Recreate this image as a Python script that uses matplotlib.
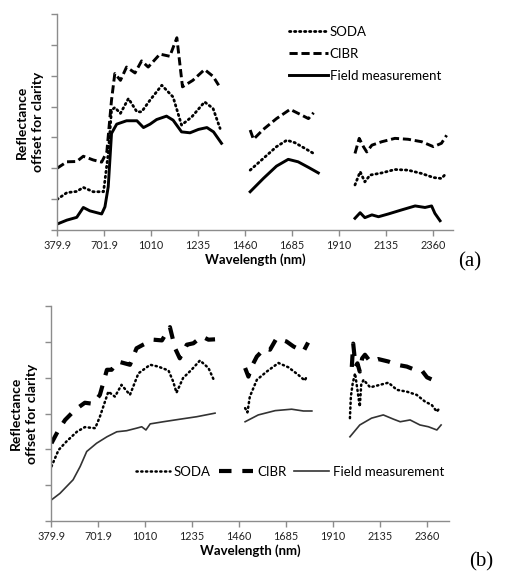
import numpy as np
import matplotlib.pyplot as plt

plt.rcParams['font.family'] = ['Lato', 'DejaVu Sans']

tick_labels = ['379.9', '701.9', '1010', '1235', '1460', '1685', '1910', '2135', '2360']

# x given in axis (category tick) units; None splits the spectral gaps
# ---- panel (a)
a_field_x = [0, .21, .42, .56, .70, .95, 1.02, 1.09, 1.16, 1.27, 1.48, 1.70, 1.84, 1.98, 2.12, 2.33, 2.47, 2.65, 2.83, 3.01, 3.19, 3.33, 3.50,
             None, 4.11, 4.39, 4.67, 4.92, 5.13, 5.35, 5.56,
             None, 6.34, 6.45, 6.55, 6.70, 6.84, 7.05, 7.33, 7.62, 7.83, 7.97, 8.04, 8.15]
a_field_y = [.19, .32, .41, .73, .62, .52, .75, 1.40, 3.13, 3.43, 3.54, 3.54, 3.32, 3.43, 3.58, 3.69, 3.56, 3.18, 3.15, 3.26, 3.32, 3.18, 2.81,
             None, 1.24, 1.67, 2.07, 2.29, 2.21, 2.03, 1.85,
             None, .38, .56, .40, .49, .43, .52, .65, .78, .73, .78, .54, .30]
a_cibr_x = [0, .21, .42, .56, .77, .95, 1.06, 1.16, 1.23, 1.35, 1.48, 1.66, 1.80, 1.94, 2.19, 2.40, 2.55, 2.67, 2.89, 3.14, 3.32, 3.44,
            None, 4.11, 4.18, 4.39, 4.67, 4.96, 5.17, 5.35, 5.46,
            None, 6.34, 6.43, 6.52, 6.59, 6.70, 6.91, 7.19, 7.47, 7.76, 8.01, 8.18, 8.29]
a_cibr_y = [2.0, 2.21, 2.22, 2.39, 2.27, 2.20, 2.53, 4.21, 5.07, 4.85, 5.28, 5.09, 5.48, 5.28, 5.70, 5.63, 6.23, 4.64, 4.85, 5.20, 4.98, 4.69,
            None, 3.24, 2.94, 3.26, 3.61, 3.91, 3.75, 3.61, 3.80,
            None, 2.48, 2.97, 2.70, 2.53, 2.75, 2.86, 2.97, 2.94, 2.86, 2.70, 2.81, 3.07]
a_soda_x = [0, .21, .42, .56, .77, .99, 1.09, 1.16, 1.23, 1.35, 1.52, 1.70, 1.80, 1.98, 2.23, 2.47, 2.65, 2.87, 3.14, 3.32, 3.47,
            None, 4.11, 4.39, 4.67, 4.89, 5.06, 5.28, 5.46,
            None, 6.34, 6.45, 6.55, 6.66, 6.91, 7.19, 7.47, 7.76, 8.01, 8.18, 8.29]
a_soda_y = [.99, 1.21, 1.25, 1.38, 1.24, 1.24, 2.48, 3.88, 3.97, 3.78, 4.26, 3.83, 3.83, 4.21, 4.69, 4.31, 3.40, 3.67, 4.15, 3.94, 3.29,
            None, 1.94, 2.32, 2.70, 2.91, 2.83, 2.64, 2.48,
            None, 1.46, 1.89, 1.56, 1.78, 1.85, 1.96, 1.94, 1.83, 1.70, 1.67, 1.85]

# ---- panel (b)
b_field_x = [.01, .19, .33, .47, .62, .76, .97, 1.19, 1.40, 1.61, 1.82, 1.93, 2.02, 2.11, 2.39, 2.74, 3.10, 3.49,
             None, 4.13, 4.41, 4.77, 5.12, 5.37, 5.55,
             None, 6.36, 6.57, 6.82, 7.07, 7.29, 7.43, 7.64, 7.85, 8.03, 8.21, 8.30]
b_field_y = [.59, .77, .96, 1.15, 1.52, 1.94, 2.17, 2.35, 2.49, 2.52, 2.59, 2.63, 2.54, 2.71, 2.77, 2.84, 2.91, 3.01,
             None, 2.77, 2.96, 3.08, 3.12, 3.07, 3.07,
             None, 2.35, 2.68, 2.87, 2.96, 2.84, 2.77, 2.82, 2.68, 2.63, 2.54, 2.68]
b_soda_x = [.01, .16, .33, .55, .72, .94, 1.04, 1.22, 1.36, 1.50, 1.68, 1.86, 2.11, 2.28, 2.50, 2.60, 2.67, 2.81, 2.99, 3.17, 3.35, 3.47,
            None, 4.13, 4.18, 4.23, 4.38, 4.59, 4.84, 5.05, 5.26, 5.40, 5.44,
            None, 6.36, 6.38, 6.42, 6.47, 6.54, 6.57, 6.60, 6.65, 6.79, 7.00, 7.18, 7.36, 7.57, 7.78, 7.96, 8.10, 8.21, 8.28]
b_soda_y = [1.52, 1.98, 2.22, 2.49, 2.62, 2.59, 2.91, 3.61, 3.47, 3.80, 3.52, 4.12, 4.36, 4.31, 4.20, 3.89, 3.58, 3.99, 4.22, 4.48, 4.27, 3.92,
            None, 3.15, 3.03, 3.47, 3.94, 4.17, 4.41, 4.29, 4.08, 3.92, 4.03,
            None, 2.87, 3.47, 3.85, 4.12, 3.47, 3.19, 3.80, 3.94, 3.73, 3.80, 3.86, 3.66, 3.61, 3.52, 3.33, 3.24, 3.05, 3.18]
b_cibr_x = [.01, .16, .30, .51, .72, .90, 1.04, 1.19, 1.29, 1.43, 1.68, 1.82, 1.96, 2.18, 2.36, 2.53, 2.64, 2.74, 2.89, 3.03, 3.21, 3.35, 3.49,
            None, 4.13, 4.20, 4.27, 4.38, 4.55, 4.66, 4.80, 5.01, 5.16, 5.37, 5.47,
            None, 6.40, 6.43, 6.48, 6.52, 6.57, 6.62, 6.68, 6.79, 6.96, 7.18, 7.36, 7.57, 7.74, 7.89, 8.00, 8.15, 8.22]
b_cibr_y = [2.17, 2.54, 2.82, 3.10, 3.30, 3.27, 3.52, 4.22, 4.22, 4.45, 4.36, 4.82, 4.92, 5.06, 5.04, 5.41, 4.82, 4.54, 4.92, 4.96, 5.15, 5.06, 5.07,
            None, 4.27, 4.03, 4.31, 4.59, 4.82, 4.78, 5.10, 5.01, 4.87, 4.73, 4.98,
            None, 4.30, 4.95, 4.31, 4.40, 4.17, 4.54, 4.64, 4.45, 4.52, 4.45, 4.36, 4.31, 4.22, 4.20, 4.01, 3.92, 4.01]


def arr(v):
    return np.array([np.nan if e is None else e for e in v], dtype=float)


def style_axis(ax, ymax, xmax):
    ax.set_xlim(0, xmax)
    ax.set_ylim(0, ymax)
    ax.set_xticks(range(len(tick_labels)))
    ax.set_xticklabels(tick_labels, fontsize=7.8, color='#222222')
    ax.set_yticks(range(ymax + 1))
    ax.set_yticklabels([])
    for s in ['top', 'right']:
        ax.spines[s].set_visible(False)
    for s in ['left', 'bottom']:
        ax.spines[s].set_color('#8c8c8c')
        ax.spines[s].set_linewidth(1)
    ax.tick_params(axis='both', colors='#8c8c8c', length=4, width=1, direction='out')
    ax.tick_params(axis='x', labelcolor='#222222', pad=3)
    ax.set_xlabel('Wavelength (nm)', fontsize=9.5, fontweight='bold', labelpad=2)
    ax.set_ylabel('Reflectance\noffset for clarity', fontsize=10, fontweight='bold',
                  labelpad=1.5, linespacing=1.5)


fig = plt.figure(figsize=(5.07, 5.74), dpi=100)
W, H = 507, 574

# panel (a)
axa = fig.add_axes([57 / W, 1 - 230 / H, (453 - 57) / W, (230 - 14) / H])
axa.plot(arr(a_soda_x), arr(a_soda_y), color='black', lw=2.0, linestyle=(0, (0.5, 1.3)),
         dash_capstyle='round', label='SODA')
axa.plot(arr(a_cibr_x), arr(a_cibr_y), color='black', lw=2.1, linestyle=(0, (2.8, 1.3)),
         label='CIBR')
axa.plot(arr(a_field_x), arr(a_field_y), color='black', lw=2.1, linestyle='-',
         label='Field measurement')
style_axis(axa, 7, (453 - 57) / 47)
axa.legend(loc='upper left', bbox_to_anchor=(0.555, 1.0), frameon=False, fontsize=9.5,
           handlelength=3.0, handletextpad=0.1, labelspacing=0.75)

# panel (b)
axb = fig.add_axes([51 / W, 1 - 521 / H, (449 - 51) / W, (521 - 306) / H])
axb.plot(arr(b_soda_x), arr(b_soda_y), color='black', lw=1.8, linestyle=(0, (0.5, 1.4)),
         dash_capstyle='round', label='SODA')
axb.plot(arr(b_cibr_x), arr(b_cibr_y), color='black', lw=3.0, linestyle=(0, (3.0, 2.6)),
         label='CIBR')
axb.plot(arr(b_field_x), arr(b_field_y), color='#333333', lw=1.2, linestyle='-',
         label='Field measurement')
style_axis(axb, 6, (449 - 51) / 47)
axb.legend(loc='center', bbox_to_anchor=(0.60, 0.23), frameon=False, fontsize=9.5, ncol=3,
           handlelength=2.6, handletextpad=0.3, columnspacing=0.6)

fig.text(470 / W, 1 - 262 / H, '(a)', family='Liberation Serif', fontsize=15, ha='center', va='center')
fig.text(481 / W, 1 - 562 / H, '(b)', family='Liberation Serif', fontsize=15, ha='center', va='center')

fig.savefig('out.png', dpi=100)
